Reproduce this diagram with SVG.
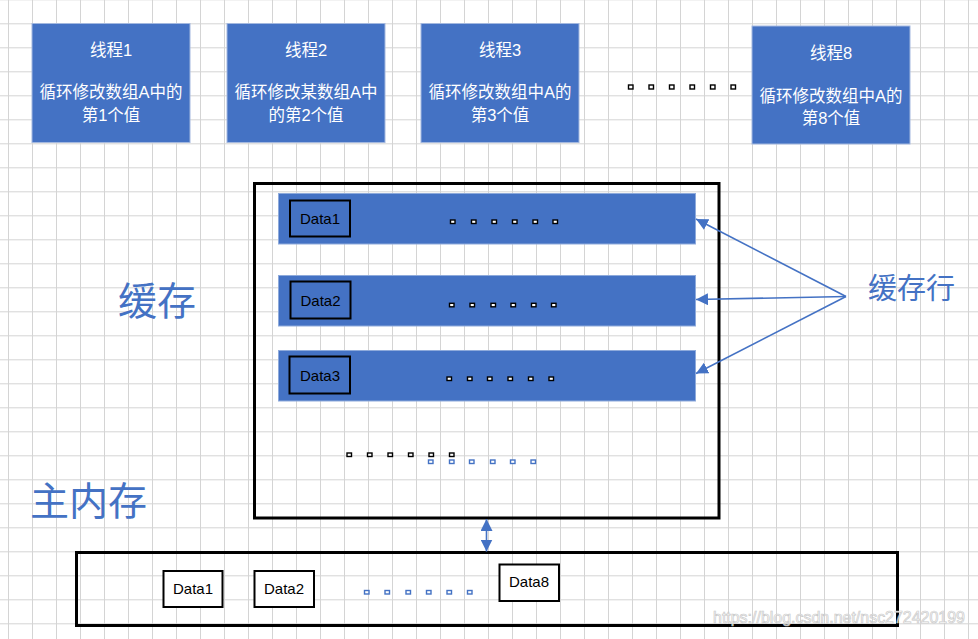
<svg xmlns="http://www.w3.org/2000/svg" width="978" height="639" viewBox="0 0 978 639">
<defs>
<pattern id="grid" x="8" y="23.3" width="24" height="24" patternUnits="userSpaceOnUse">
<path d="M0.5,0 V24 M0,0.5 H24" fill="none" stroke="#d4d4d4" stroke-width="1"/>
</pattern>
<marker id="ah" viewBox="0 0 12 12" refX="12" refY="6" markerWidth="12" markerHeight="12" markerUnits="userSpaceOnUse" orient="auto-start-reverse">
<path d="M0,0 L12,6 L0,12 z" fill="#4472C4"/>
</marker>
<style>
.thread{fill:#4472C4;stroke:#a3b8df;stroke-width:1}
.tt{font-family:"Liberation Sans","Noto Sans CJK SC",sans-serif;font-size:16.5px;fill:#fff;text-anchor:middle}
.line{fill:#4472C4;stroke:#8eaadb;stroke-width:1}
.dbox{fill:#4472C4;stroke:#000;stroke-width:2}
.mbox{fill:#fff;stroke:#000;stroke-width:2}
.dt{font-family:"Liberation Sans",sans-serif;font-size:15px;fill:#000;text-anchor:middle}
.frame{fill:none;stroke:#000;stroke-width:3}
.big{font-family:"Noto Sans CJK SC",sans-serif;fill:#4472C4}
.d{fill:#fff;stroke:#000;stroke-width:1.4}
.db{fill:#fff;stroke:#4472C4;stroke-width:1.4}
.conn{stroke:#4472C4;stroke-width:1.6;fill:none}
</style>
</defs>
<rect width="978" height="639" fill="#fff"/>
<rect width="978" height="639" fill="url(#grid)"/>

<g id="thread1">
<rect class="thread" x="32" y="23.5" width="158" height="119"/>
<text class="tt" x="111" y="56">线程1</text>
<text class="tt" x="111" y="98">循环修改数组A中的</text>
<text class="tt" x="111" y="121">第1个值</text>
</g>
<g id="thread2">
<rect class="thread" x="227" y="23.5" width="158" height="119"/>
<text class="tt" x="306" y="56">线程2</text>
<text class="tt" x="306" y="98">循环修改某数组A中</text>
<text class="tt" x="306" y="121">的第2个值</text>
</g>
<g id="thread3">
<rect class="thread" x="421" y="23.5" width="158" height="119"/>
<text class="tt" x="500" y="56">线程3</text>
<text class="tt" x="500" y="98">循环修改数组中A的</text>
<text class="tt" x="500" y="121">第3个值</text>
</g>
<g id="thread8">
<rect class="thread" x="752" y="26" width="158" height="118"/>
<text class="tt" x="831" y="59">线程8</text>
<text class="tt" x="831" y="102">循环修改数组中A的</text>
<text class="tt" x="831" y="124">第8个值</text>
</g>
<g id="threadDots">
<rect class="d" x="628.5" y="85" width="4.5" height="4"/>
<rect class="d" x="649" y="85" width="4.5" height="4"/>
<rect class="d" x="669.5" y="85" width="4.5" height="4"/>
<rect class="d" x="690" y="85" width="4.5" height="4"/>
<rect class="d" x="710.5" y="85" width="4.5" height="4"/>
<rect class="d" x="731" y="85" width="4.5" height="4"/>
</g>

<g id="cache">
<rect class="frame" x="254.5" y="183.5" width="464.5" height="334.5"/>
<text class="big" x="118" y="315" font-size="39">缓存</text>
</g>
<g id="cacheLine1">
<rect class="line" x="278.5" y="193.5" width="417" height="50.5"/>
<rect class="dbox" x="290" y="200.5" width="60" height="36"/>
<text class="dt" x="320" y="224">Data1</text>
<rect class="d" x="450.5" y="220" width="4.5" height="3.5"/>
<rect class="d" x="471.5" y="220" width="4.5" height="3.5"/>
<rect class="d" x="492" y="220" width="4.5" height="3.5"/>
<rect class="d" x="512.5" y="220" width="4.5" height="3.5"/>
<rect class="d" x="533" y="220" width="4.5" height="3.5"/>
<rect class="d" x="553" y="220" width="4.5" height="3.5"/>
</g>
<g id="cacheLine2">
<rect class="line" x="278.5" y="275.5" width="417" height="50.5"/>
<rect class="dbox" x="290.5" y="281.5" width="60" height="37"/>
<text class="dt" x="320.5" y="305.5">Data2</text>
<rect class="d" x="449.5" y="303.3" width="4.5" height="3.5"/>
<rect class="d" x="470" y="303.3" width="4.5" height="3.5"/>
<rect class="d" x="491" y="303.3" width="4.5" height="3.5"/>
<rect class="d" x="511" y="303.3" width="4.5" height="3.5"/>
<rect class="d" x="531.5" y="303.3" width="4.5" height="3.5"/>
<rect class="d" x="551.5" y="303.3" width="4.5" height="3.5"/>
</g>
<g id="cacheLine3">
<rect class="line" x="278.5" y="350.5" width="417" height="50.5"/>
<rect class="dbox" x="289.5" y="356.5" width="60.5" height="37"/>
<text class="dt" x="320" y="380.5">Data3</text>
<rect class="d" x="447" y="377" width="4.5" height="3.5"/>
<rect class="d" x="467.5" y="377" width="4.5" height="3.5"/>
<rect class="d" x="487.5" y="377" width="4.5" height="3.5"/>
<rect class="d" x="508" y="377" width="4.5" height="3.5"/>
<rect class="d" x="528.5" y="377" width="4.5" height="3.5"/>
<rect class="d" x="549" y="377" width="4.5" height="3.5"/>
</g>
<g id="cacheDots">
<rect class="d" x="347" y="453" width="4.5" height="3.5"/>
<rect class="d" x="367.5" y="453" width="4.5" height="3.5"/>
<rect class="d" x="388" y="453" width="4.5" height="3.5"/>
<rect class="d" x="408.5" y="453" width="4.5" height="3.5"/>
<rect class="d" x="429" y="453" width="4.5" height="3.5"/>
<rect class="d" x="449.5" y="453" width="4.5" height="3.5"/>
<rect class="db" x="428.5" y="460" width="4.5" height="3.5"/>
<rect class="db" x="449.5" y="460" width="4.5" height="3.5"/>
<rect class="db" x="469.5" y="460" width="4.5" height="3.5"/>
<rect class="db" x="490.5" y="460" width="4.5" height="3.5"/>
<rect class="db" x="510.5" y="460" width="4.5" height="3.5"/>
<rect class="db" x="531" y="460" width="4.5" height="3.5"/>
</g>

<g id="cacheLineLabel">
<text class="big" x="868" y="299" font-size="29">缓存行</text>
</g>

<g id="memory">
<rect class="frame" x="76.5" y="552.5" width="821" height="73"/>
<text class="big" x="30" y="515" font-size="39">主内存</text>
<rect class="mbox" x="163.5" y="571" width="59" height="36"/>
<text class="dt" x="193" y="594">Data1</text>
<rect class="mbox" x="254.5" y="571" width="59.5" height="36"/>
<text class="dt" x="284" y="594">Data2</text>
<rect class="mbox" x="499.5" y="564.5" width="59.5" height="36.5"/>
<text class="dt" x="529" y="587">Data8</text>
<rect class="db" x="364.5" y="590.5" width="4.5" height="3.5"/>
<rect class="db" x="385" y="590.5" width="4.5" height="3.5"/>
<rect class="db" x="406" y="590.5" width="4.5" height="3.5"/>
<rect class="db" x="426.5" y="590.5" width="4.5" height="3.5"/>
<rect class="db" x="447" y="590.5" width="4.5" height="3.5"/>
<rect class="db" x="467.5" y="590.5" width="4.5" height="3.5"/>
</g>

<g id="connectors">
<line class="conn" x1="846" y1="296.5" x2="696" y2="219" marker-end="url(#ah)"/>
<line class="conn" x1="846" y1="296.5" x2="696" y2="299.5" marker-end="url(#ah)"/>
<line class="conn" x1="846" y1="296.5" x2="696" y2="373.5" marker-end="url(#ah)"/>
<line class="conn" x1="486.5" y1="519" x2="486.5" y2="551.5" marker-start="url(#ah)" marker-end="url(#ah)"/>
</g>

<text x="713" y="623" font-family="Liberation Sans, sans-serif" font-size="16" textLength="252" lengthAdjust="spacingAndGlyphs" fill="#ffffff" stroke="#c4c4c4" stroke-width="0.7" opacity="0.9">https://blog.csdn.net/nsc272420199</text>
</svg>
